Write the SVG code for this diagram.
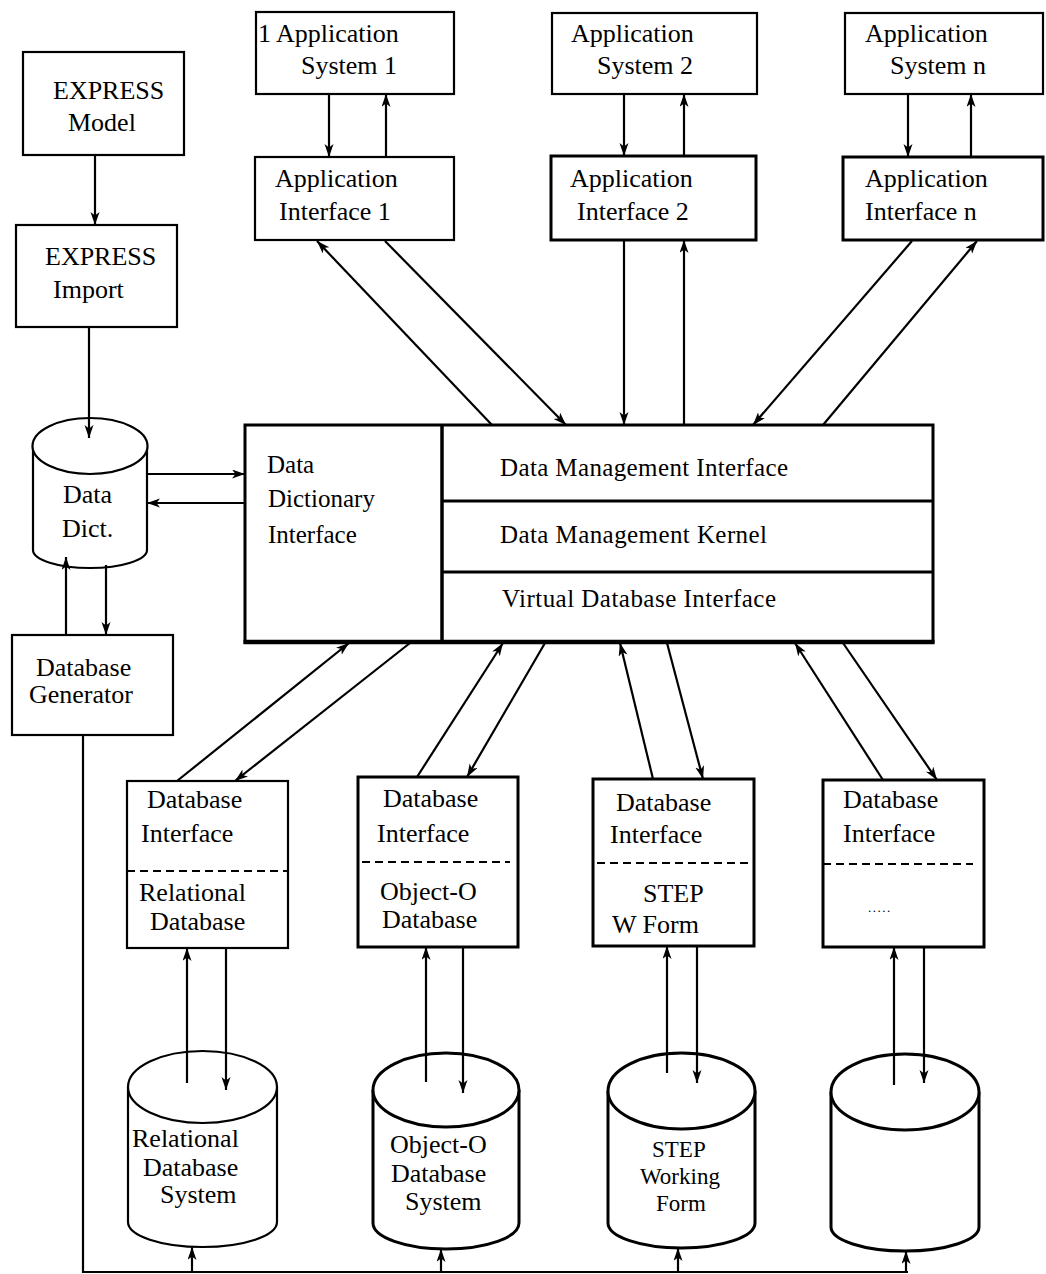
<svg xmlns="http://www.w3.org/2000/svg" width="1046" height="1274" viewBox="0 0 1046 1274">
<style>
text{font-family:"Liberation Serif","Times New Roman",serif;font-size:26px;fill:#000}
.b{fill:#fff;stroke:#000;stroke-width:2.2}
.bt{fill:#fff;stroke:#000;stroke-width:3}
.c{fill:none;stroke:#000;stroke-width:2.2}
.a{fill:none;stroke:#000;stroke-width:2.2;marker-end:url(#ah)}
.d{fill:none;stroke:#000;stroke-width:2;stroke-dasharray:8 5}
.m{font-size:25px}
.s{font-size:23px}
</style>
<defs>
<marker id="ah" markerUnits="userSpaceOnUse" markerWidth="14" markerHeight="10" refX="13" refY="4.5" orient="auto">
<path d="M0,0 L13,4.5 L0,9 L3.5,4.5 z" fill="#000"/>
</marker>
</defs>
<rect width="1046" height="1274" fill="#fff"/>

<g id="express-model"><rect class="b" x="23" y="52" width="161" height="103"/><text x="53" y="99">EXPRESS</text><text x="68" y="131">Model</text></g>
<g id="express-import"><rect class="b" x="16" y="225" width="161" height="102"/><text x="45" y="265">EXPRESS</text><text x="53" y="298">Import</text></g>
<g id="data-dict"><path class="b" d="M33,446 L33,550 A57 18 0 0 0 147,550 L147,446"/><ellipse class="b" cx="90" cy="446" rx="57.5" ry="28"/><text x="63" y="503">Data</text><text x="62" y="537">Dict.</text></g>
<g id="db-generator"><rect class="b" x="12" y="635" width="161" height="100"/><text x="36" y="676">Database</text><text x="29" y="703">Generator</text></g>

<g id="app-sys-1"><rect class="b" x="256" y="12" width="198" height="82"/><text x="258" y="42">1 Application</text><text x="301" y="74">System 1</text></g>
<g id="app-int-1"><rect class="b" x="255" y="157" width="199" height="83"/><text x="275" y="187">Application</text><text x="279" y="220">Interface 1</text></g>
<g id="app-sys-2"><rect class="b" x="552" y="13" width="205" height="81"/><text x="571" y="42">Application</text><text x="597" y="74">System 2</text></g>
<g id="app-int-2"><rect class="bt" x="551" y="156" width="205" height="84"/><text x="570" y="187">Application</text><text x="577" y="220">Interface 2</text></g>
<g id="app-sys-n"><rect class="b" x="845" y="13" width="198" height="81"/><text x="865" y="42">Application</text><text x="890" y="74">System n</text></g>
<g id="app-int-n"><rect class="bt" x="843" y="157" width="200" height="83"/><text x="865" y="187">Application</text><text x="865" y="220">Interface n</text></g>

<g id="main">
<rect fill="#fff" stroke="#000" stroke-width="3" x="245" y="425" width="688" height="217"/>
<line x1="243.5" y1="642" x2="934.5" y2="642" stroke="#000" stroke-width="4.5"/>
<line x1="442" y1="425" x2="442" y2="642" stroke="#000" stroke-width="3.5"/>
<line x1="442" y1="501" x2="933" y2="501" stroke="#000" stroke-width="3"/>
<line x1="442" y1="572" x2="933" y2="572" stroke="#000" stroke-width="3"/>
<text class="m" x="267" y="473">Data</text><text class="m" x="268" y="507">Dictionary</text><text class="m" x="268" y="543">Interface</text>
<text class="m" x="500" y="476" textLength="288" lengthAdjust="spacing">Data Management Interface</text>
<text class="m" x="500" y="543" textLength="267" lengthAdjust="spacing">Data Management Kernel</text>
<text class="m" x="502" y="607" textLength="274" lengthAdjust="spacing">Virtual Database Interface</text>
</g>

<g id="dbi-relational"><rect class="b" x="127" y="781" width="161" height="167"/><line class="d" x1="127" y1="871" x2="288" y2="871" stroke-width="2.5"/><text x="147" y="808">Database</text><text x="141" y="842">Interface</text><text x="139" y="901">Relational</text><text x="150" y="930">Database</text></g>
<g id="dbi-object"><rect class="bt" x="358" y="777" width="160" height="170"/><line class="d" x1="362" y1="862" x2="510" y2="862"/><text x="383" y="807">Database</text><text x="377" y="842">Interface</text><text x="380" y="900">Object-O</text><text x="382" y="928">Database</text></g>
<g id="dbi-step"><rect class="bt" x="593" y="779" width="161" height="167"/><line class="d" x1="597" y1="863" x2="750" y2="863"/><text x="616" y="811">Database</text><text x="610" y="843">Interface</text><text x="643" y="902">STEP</text><text x="612" y="933">W Form</text></g>
<g id="dbi-other"><rect class="bt" x="823" y="780" width="161" height="167"/><line class="d" x1="823" y1="864" x2="973" y2="864"/><text x="843" y="808">Database</text><text x="843" y="842">Interface</text><text x="868" y="912" style="font-size:13px" letter-spacing="1.5">.....</text></g>

<g id="cyl-relational"><path class="b" d="M128,1087 L128,1222 A74.5 25 0 0 0 277,1222 L277,1087"/><ellipse class="b" cx="202.5" cy="1087" rx="74.5" ry="36"/><text x="132" y="1147">Relational</text><text x="143" y="1176">Database</text><text x="160" y="1203">System</text></g>
<g id="cyl-object"><path class="bt" d="M373,1090 L373,1223 A73 26 0 0 0 519,1223 L519,1090"/><ellipse class="bt" cx="446" cy="1090" rx="73" ry="37"/><text x="390" y="1153">Object-O</text><text x="391" y="1182">Database</text><text x="405" y="1210">System</text></g>
<g id="cyl-step"><path class="bt" d="M608,1091 L608,1223 A73.5 25 0 0 0 755,1223 L755,1091"/><ellipse class="bt" cx="681.5" cy="1091" rx="73.5" ry="38"/><text class="s" x="652" y="1157">STEP</text><text class="s" x="640" y="1184">Working</text><text class="s" x="656" y="1211">Form</text></g>
<g id="cyl-other"><path class="bt" d="M831,1092 L831,1227 A74 24 0 0 0 979,1227 L979,1092"/><ellipse class="bt" cx="905" cy="1092" rx="74" ry="38"/></g>

<g id="connectors">
<line class="a" x1="95" y1="155" x2="95" y2="225"/>
<line class="a" x1="89" y1="327" x2="89" y2="438"/>
<line class="a" x1="148" y1="474" x2="245" y2="474"/>
<line class="a" x1="245" y1="503" x2="147" y2="503"/>
<line class="a" x1="66" y1="635" x2="66" y2="557"/>
<line class="a" x1="106" y1="565" x2="106" y2="635"/>
<line class="a" x1="329" y1="94" x2="329" y2="157"/>
<line class="a" x1="386" y1="157" x2="386" y2="94"/>
<line class="a" x1="624" y1="94" x2="624" y2="156"/>
<line class="a" x1="684" y1="156" x2="684" y2="94"/>
<line class="a" x1="908" y1="94" x2="908" y2="157"/>
<line class="a" x1="971" y1="157" x2="971" y2="94"/>
<line class="a" x1="492" y1="425" x2="317" y2="241"/>
<line class="a" x1="385" y1="241" x2="566" y2="425"/>
<line class="a" x1="624" y1="240" x2="624" y2="425"/>
<line class="a" x1="684" y1="425" x2="684" y2="240"/>
<line class="a" x1="912" y1="241" x2="753" y2="425"/>
<line class="a" x1="823" y1="425" x2="977" y2="241"/>
<line class="a" x1="177" y1="781" x2="349" y2="643"/>
<line class="a" x1="410" y1="643" x2="235" y2="781"/>
<line class="a" x1="417" y1="777" x2="503" y2="643"/>
<line class="a" x1="545" y1="643" x2="467" y2="777"/>
<line class="a" x1="653" y1="779" x2="620" y2="643"/>
<line class="a" x1="667" y1="643" x2="703" y2="779"/>
<line class="a" x1="883" y1="780" x2="795" y2="643"/>
<line class="a" x1="843" y1="643" x2="937" y2="780"/>
<line class="a" x1="187" y1="1083" x2="187" y2="948"/>
<line class="a" x1="226" y1="948" x2="226" y2="1090"/>
<line class="a" x1="426" y1="1082" x2="426" y2="947"/>
<line class="a" x1="463" y1="947" x2="463" y2="1093"/>
<line class="a" x1="667" y1="1073" x2="667" y2="946"/>
<line class="a" x1="697" y1="946" x2="697" y2="1083"/>
<line class="a" x1="894" y1="1085" x2="894" y2="947"/>
<line class="a" x1="924" y1="947" x2="924" y2="1083"/>
<polyline class="c" points="83,735 83,1272 908,1272"/>
<line class="a" x1="192" y1="1272" x2="192" y2="1247"/>
<line class="a" x1="441" y1="1272" x2="441" y2="1249"/>
<line class="a" x1="678" y1="1272" x2="678" y2="1248"/>
<line class="a" x1="906" y1="1272" x2="906" y2="1251"/>
</g>
</svg>
